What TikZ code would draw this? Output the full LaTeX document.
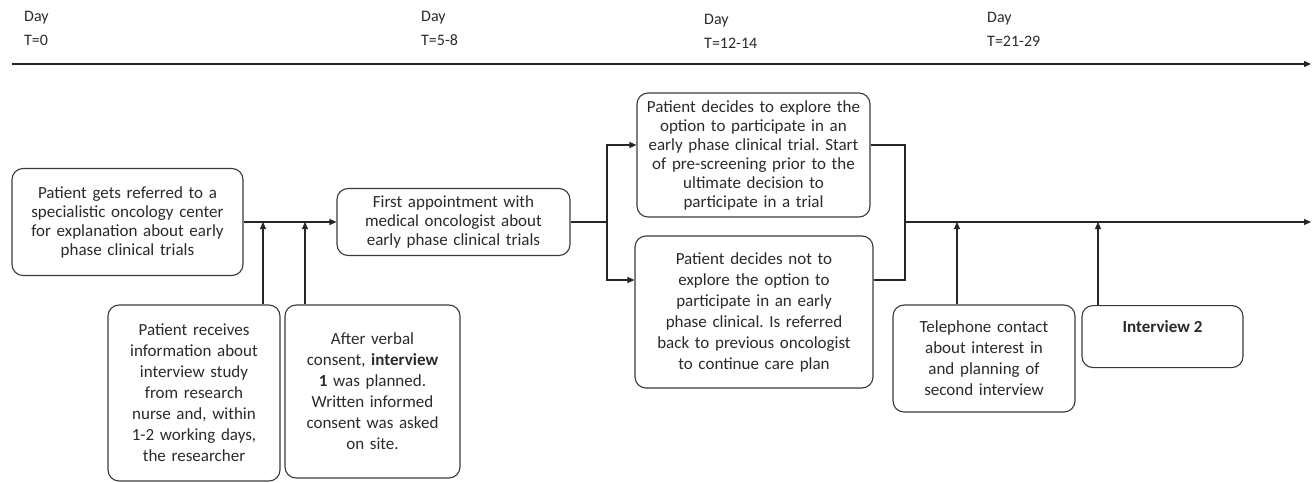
\documentclass[tikz,border=0pt]{standalone}
\usepackage{fontspec}
\setmainfont{Carlito}
\usetikzlibrary{arrows.meta}
\definecolor{boxgray}{HTML}{3A3A3A}
\definecolor{txtgray}{HTML}{2A2A2A}
\tikzset{
  stage/.style={draw=boxgray, line width=1.1pt, rounded corners=11pt, align=center,
    text=txtgray, inner sep=0pt, font=\fontsize{17}{19}\selectfont},
  widestage/.style={stage, font=\fontsize{17}{21}\selectfont},
  link/.style={line width=1.1pt, draw=black!85},
  daylbl/.style={anchor=north west, align=left, inner sep=0pt, text=txtgray,
    font=\fontsize{16}{24}\selectfont}
}
\begin{document}
\frenchspacing
\begin{tikzpicture}[x=1pt,y=-1pt,>={Triangle[length=7pt,width=6pt]}]
	\useasboundingbox (0,0) rectangle (1312,482);
	% time axis
	\coordinate (t0) at (12,64);
	\coordinate (t1) at (1311,64);
	\draw[link,->] (t0) -- (t1);
	\node[daylbl] (d0) at (24,11) {Day\\T=0};
	\node[daylbl] (d1) at (421,11) {Day\\T=5-8};
	\node[daylbl] (d2) at (704,14) {Day\\T=12-14};
	\node[daylbl] (d3) at (987,12) {Day\\T=21-29};
	
	% steps
	\node[stage, minimum width=231pt, minimum height=107pt, text width=222pt] (refer) at (127.5,222)
	{Patient gets referred to a\\specialistic oncology center\\for explanation about early\\phase clinical trials};
	\node[stage, minimum width=233pt, minimum height=67pt, text width=225pt] (appoint) at (453.5,222)
	{First appointment with\\medical oncologist about\\early phase clinical trials};
	\node[widestage, minimum width=172pt, minimum height=176pt, text width=165pt] (info) at (194,393)
	{Patient receives\\information about\\interview study\\from research\\nurse and, within\\1-2 working days,\\the researcher};
	\node[widestage, minimum width=175pt, minimum height=173pt, text width=168pt] (consent) at (372.5,391.5)
	{After verbal\\consent, \textbf{interview}\\\textbf{1} was planned.\\Written informed\\consent was asked\\on site.};
	\node[stage, minimum width=233pt, minimum height=124pt, text width=228pt] (explore) at (753.5,155)
	{Patient decides to explore the\\option to participate in an\\early phase clinical trial. Start\\of pre-screening prior to the\\ultimate decision to\\participate in a trial};
	\node[widestage, minimum width=238pt, minimum height=152pt, text width=230pt] (decline) at (754,312)
	{Patient decides not to\\explore the option to\\participate in an early\\phase clinical. Is referred\\back to previous oncologist\\to continue care plan};
	\node[widestage, minimum width=182pt, minimum height=107pt, text width=175pt] (phone) at (984,358.5)
	{Telephone contact\\about interest in\\and planning of\\second interview};
	\node[stage, anchor=north, minimum width=161pt, text height=18pt, text depth=26pt, inner ysep=9pt] (intv) at (1162.5,305)
	{\textbf{Interview 2}};
	
	% connectors
	\coordinate (j1) at (263,222);
	\coordinate (j2) at (305,222);
	\draw[link,->] (refer) -- (appoint);
	\draw[link,->] (info.north -| j1) -- (j1);
	\draw[link,->] (consent.north -| j2) -- (j2);
	\coordinate (s1) at (607,222);
	\draw[link] (appoint) -- (s1);
	\draw[link,->] (s1) |- ([yshift=10pt]explore.west);
	\draw[link,->] (s1) |- ([yshift=32pt]decline.west);
	\coordinate (m1) at (905,222);
	\draw[link] ([yshift=10pt]explore.east) -| (m1);
	\draw[link] ([yshift=32pt]decline.east) -| (m1);
	\coordinate (t2) at (1311,222);
	\draw[link,->] (m1) -- (t2);
	\coordinate (j3) at (957,222);
	\coordinate (j4) at (1098,222);
	\draw[link,->] (phone.north -| j3) -- (j3);
	\draw[link,->] (intv.north -| j4) -- (j4);
	
\end{tikzpicture}
\end{document}
